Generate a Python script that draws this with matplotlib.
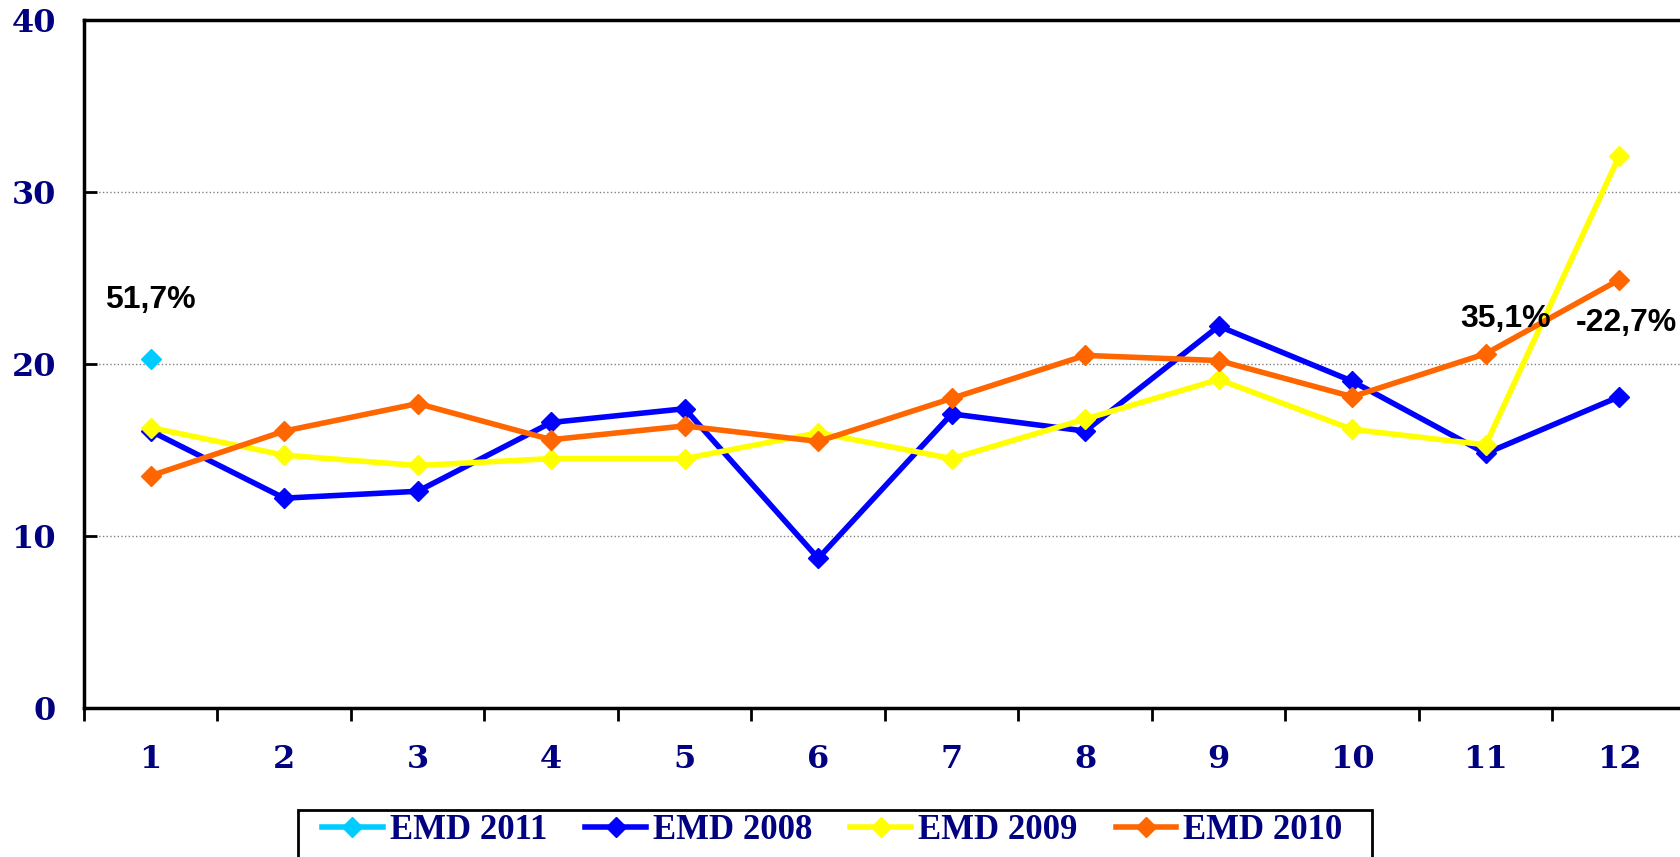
"""Monthly EMD comparison, 2008-2011."""

import matplotlib.pyplot as plt
from matplotlib.patches import Rectangle
import numpy as np

months = ["1", "2", "3", "4", "5", "6", "7", "8", "9", "10", "11", "12"]
emd_2011 = [20.3] + [np.nan] * 11
emd_2008 = [16.1, 12.2, 12.6, 16.6, 17.4, 8.7, 17.1, 16.1, 22.2, 19.0, 14.8, 18.1]
emd_2009 = [16.3, 14.7, 14.1, 14.5, 14.5, 16.0, 14.5, 16.8, 19.1, 16.2, 15.3, 32.1]
emd_2010 = [13.5, 16.1, 17.7, 15.6, 16.4, 15.5, 18.0, 20.5, 20.2, 18.1, 20.6, 24.9]

# growth labels: (x position, y position, text)
notes = [(0.0, 23.7, "51,7%"), (10.15, 22.6, "35,1%"), (11.05, 22.4, "-22,7%")]

navy = "#000080"
tick_font = ["DejaVu Serif"]
legend_font = ["Liberation Serif", "DejaVu Serif"]

fig = plt.figure(figsize=(16.81, 8.57), dpi=100)
ax = fig.add_axes([84 / 1681, 1 - 708 / 857, 1602 / 1681, 688 / 857])

x = np.arange(len(months))
ax.plot(x, emd_2011, color="#00ccff", lw=4, marker="D", ms=10, label="EMD 2011")
ax.plot(x, emd_2008, color="#0000ff", lw=4, marker="D", ms=10, label="EMD 2008")
ax.plot(x, emd_2009, color="#ffff00", lw=4, marker="D", ms=10,
        mec="#ffff00", label="EMD 2009")
ax.plot(x, emd_2010, color="#ff6600", lw=4, marker="D", ms=10, label="EMD 2010")

for nx, ny, txt in notes:
    ax.text(nx, ny, txt, ha="center", va="center", fontsize=23,
            fontweight="bold", family="Liberation Sans", color="black")

ax.set_xlim(-0.5, 11.5)
ax.set_ylim(0, 40)
ax.set_yticks([0, 10, 20, 30, 40])
ax.set_xticks(x)
ax.set_xticklabels(months)
ax.set_xticks(np.arange(-0.5, 12, 1), minor=True)
ax.tick_params(axis="x", which="major", length=0, pad=26)
ax.tick_params(axis="x", which="minor", length=9, width=2, direction="out")
ax.tick_params(axis="y", length=9, width=2, direction="in", pad=20)
for lbl in ax.get_xticklabels() + ax.get_yticklabels():
    lbl.set_family(tick_font)
    lbl.set_fontweight("bold")
    lbl.set_fontsize(23)
    lbl.set_color(navy)

ax.grid(axis="y", color="#808080", ls=":", lw=1)
ax.set_axisbelow(True)
for side in ["left", "bottom", "top"]:
    ax.spines[side].set_linewidth(2.5)
ax.spines["right"].set_visible(False)

# legend box runs off the bottom of the picture, as in the original
fig.patches.append(Rectangle((298 / 1681, -0.05), 1074 / 1681, 0.05 + 47 / 857,
                             transform=fig.transFigure, fill=False,
                             edgecolor="black", lw=2))
leg = fig.legend(loc="upper left", bbox_to_anchor=(322 / 1681, 1 - 814 / 857),
                 ncol=4, frameon=False, borderpad=0, borderaxespad=0,
                 prop={"family": legend_font, "weight": "bold", "size": 25},
                 handlelength=1.75, handletextpad=0.2, columnspacing=1.1)
for t in leg.get_texts():
    t.set_color(navy)

fig.savefig("out.png", dpi=100)
